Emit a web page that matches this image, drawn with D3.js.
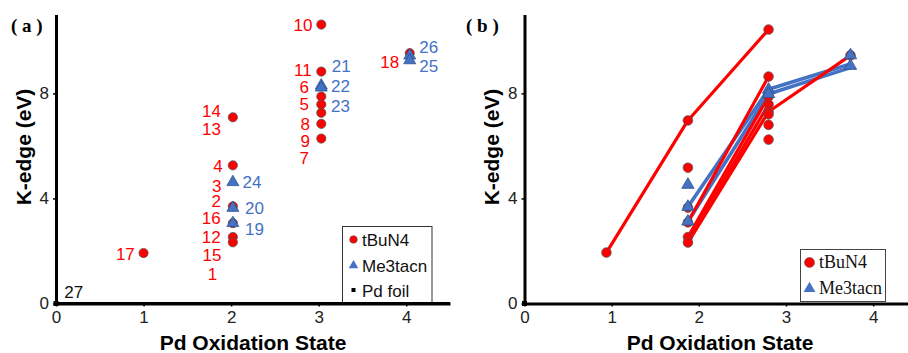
<!DOCTYPE html>
<html>
<head>
<meta charset="utf-8">
<script src="https://cdn.jsdelivr.net/npm/d3@7"></script>
<style>
  html, body { margin: 0; padding: 0; background: #fff; }
  svg { display: block; }
</style>
</head>
<body>
<svg id="chart" width="908" height="353"></svg>
<script>
// ---- Panel (a): K-edge shift vs. Pd oxidation state, labelled by complex ----
const tbuOxA   = [1, 2.02, 2.02, 2.02, 2.02, 2.02, 2.02, 3.03, 3.03, 3.03, 3.03, 3.03, 3.03, 3.03, 4.04];
const tbuEdgeA = [1.92, 7.09, 5.26, 3.70, 3.06, 2.53, 2.33, 10.62, 8.83, 7.88, 7.58, 7.26, 6.84, 6.28, 9.53];
const tacnOxA   = [2.02, 2.02, 2.02, 3.03, 3.03, 4.04, 4.04];
const tacnEdgeA = [4.62, 3.64, 3.06, 8.30, 8.22, 9.44, 9.26];
const foilOx = [0];
const foilEdge = [0];

// compound number labels: text, anchor point (oxidation state, eV), series
const labelText = ["17","14","13","4","3","2","16","12","15","1",
                   "10","11","6","5","8","9","7","18",
                   "24","20","19","21","22","23","26","25","27"];
const labelOx   = [0.90,1.885,1.885,1.905,1.89,1.885,1.88,1.88,1.89,1.84,
                   2.93,2.92,2.89,2.89,2.90,2.90,2.89,3.92,
                   2.13,2.16,2.16,3.15,3.14,3.14,4.15,4.15,0.095];
const labelEdge = [1.88,7.34,6.65,5.24,4.49,3.90,3.27,2.54,1.85,1.12,
                   10.60,8.89,8.23,7.59,6.85,6.18,5.54,9.21,
                   4.62,3.63,2.86,9.04,8.28,7.52,9.76,9.04,0.43];
const labelSeries = ["t","t","t","t","t","t","t","t","t","t",
                     "t","t","t","t","t","t","t","t",
                     "m","m","m","m","m","m","m","m","f"];

// ---- Panel (b): same complexes, oxidation state re-assigned, with redox pairs ----
const tbuOxB   = [0.94, 1.875, 1.875, 1.875, 1.875, 1.875, 1.875, 2.80, 2.80, 2.80, 2.80, 2.80, 2.80, 2.80, 2.80, 3.74];
const tbuEdgeB = [1.94, 6.97, 5.17, 3.65, 3.09, 2.53, 2.32, 10.43, 8.64, 7.88, 7.58, 7.30, 7.20, 6.80, 6.24, 9.45];
const tacnOxB   = [1.875, 1.875, 1.875, 2.80, 2.80, 3.74, 3.74];
const tacnEdgeB = [4.52, 3.68, 3.12, 8.14, 7.98, 9.45, 9.05];

// redox series connecting the same ligand platform across oxidation states
const tbuPathOx   = [[0.94, 1.875, 2.80], [1.875, 2.80], [1.875, 2.80], [1.875, 2.80], [1.875, 2.80, 3.74]];
const tbuPathEdge = [[1.94, 6.97, 10.43], [3.09, 8.64], [2.53, 7.88], [2.40, 7.58], [2.32, 7.30, 9.45]];
const tacnPathOx   = [[1.875, 2.80, 3.74], [1.875, 2.80, 3.74]];
const tacnPathEdge = [[3.68, 8.16, 9.12], [3.12, 7.98, 8.98]];

const xTicks = [0, 1, 2, 3, 4];
const yTicks = [0, 4, 8];

const RED = "#ff0000", BLUE = "#4472c4", MARK_STROKE = "#555";
const SANS = "'Liberation Sans', Arial, sans-serif";
const SERIF = "'Liberation Serif', 'Times New Roman', serif";

const svg = d3.select("#chart");
const tri = d3.symbol().type(d3.symbolTriangle);

function drawAxes(g, x, y, cx, cy, panelTag, tagX) {
  const yAxis = g.append("g")
    .attr("transform", `translate(${x.range()[0]},0)`)
    .call(d3.axisLeft(y).tickValues(yTicks).tickSize(3).tickSizeOuter(0).tickPadding(4).tickFormat(d3.format("d")));
  const xAxis = g.append("g")
    .attr("transform", `translate(0,${y.range()[0]})`)
    .call(d3.axisBottom(x).tickValues(xTicks).tickSize(3).tickSizeOuter(0).tickPadding(4).tickFormat(d3.format("d")));
  [xAxis, yAxis].forEach(a => {
    a.select(".domain").attr("stroke", "#000").attr("stroke-width", 3);
    a.selectAll(".tick line").attr("stroke", "#000").attr("stroke-width", 1.5);
    a.selectAll(".tick text").attr("fill", "#222").style("font-family", SANS).style("font-size", "17px");
  });
  g.append("text")
    .attr("x", cx).attr("y", 350)
    .attr("text-anchor", "middle")
    .style("font-family", SANS).style("font-weight", "bold").style("font-size", "21px")
    .text("Pd Oxidation State");
  g.append("text")
    .attr("transform", `translate(${cy},147) rotate(-90)`)
    .attr("text-anchor", "middle").attr("dy", "0.36em")
    .style("font-family", SANS).style("font-weight", "bold").style("font-size", "21px")
    .text("K-edge (eV)");
  g.append("text")
    .attr("x", tagX).attr("y", 32)
    .style("font-family", SERIF).style("font-weight", "bold").style("font-size", "19px")
    .style("white-space", "pre")
    .text(`( ${panelTag} )`);
}

function circles(g, x, y, xs, ys, r) {
  g.append("g").selectAll("circle").data(xs.map((d, i) => [d, ys[i]])).join("circle")
    .attr("cx", d => x(d[0])).attr("cy", d => y(d[1])).attr("r", r)
    .attr("fill", RED).attr("stroke", MARK_STROKE).attr("stroke-width", 0.8);
}
function triangles(g, x, y, xs, ys, size) {
  g.append("g").selectAll("path").data(xs.map((d, i) => [d, ys[i]])).join("path")
    .attr("d", tri.size(size)())
    .attr("transform", d => `translate(${x(d[0])},${y(d[1])})`)
    .attr("fill", BLUE).attr("stroke", "#2f528f").attr("stroke-width", 0.8);
}

// ---------------- Panel (a) ----------------
{
  const x = d3.scaleLinear().domain([0, 4.5]).range([56, 450]);
  const y = d3.scaleLinear().domain([0, 11]).range([303.5, 14.6]);
  const g = svg.append("g");
  drawAxes(g, x, y, 253, 23, "a", 11);

  g.append("g").selectAll("rect").data(foilOx.map((d, i) => [d, foilEdge[i]])).join("rect")
    .attr("x", d => x(d[0]) - 2.5).attr("y", d => y(d[1]) - 2.5)
    .attr("width", 5).attr("height", 5).attr("fill", "#000");
  circles(g, x, y, tbuOxA, tbuEdgeA, 4.6);
  triangles(g, x, y, tacnOxA, tacnEdgeA, 62);

  const colorOf = { t: RED, m: BLUE, f: "#111" };
  g.append("g").selectAll("text").data(labelText.map((t, i) => i)).join("text")
    .attr("x", i => x(labelOx[i])).attr("y", i => y(labelEdge[i]))
    .attr("dy", "0.36em")
    .attr("text-anchor", i => labelSeries[i] === "t" ? "end" : "start")
    .attr("fill", i => colorOf[labelSeries[i]])
    .style("font-family", SANS).style("font-size", "17px")
    .text(i => labelText[i]);

  // legend
  const lg = g.append("g");
  lg.append("rect").attr("x", 342.5).attr("y", 226.5).attr("width", 89.5).attr("height", 78)
    .attr("fill", "#fff").attr("stroke", "#333").attr("stroke-width", 1);
  lg.append("circle").attr("cx", 353.5).attr("cy", 239.5).attr("r", 3.8).attr("fill", RED).attr("stroke", MARK_STROKE).attr("stroke-width", 0.6);
  lg.append("path").attr("d", tri.size(40)()).attr("transform", "translate(353.5,265.5)").attr("fill", BLUE);
  lg.append("rect").attr("x", 351.5).attr("y", 288).attr("width", 4).attr("height", 4).attr("fill", "#000");
  [["tBuN4", 239.5], ["Me3tacn", 265.5], ["Pd foil", 290.5]].forEach(([t, yy]) => {
    lg.append("text").attr("x", 362).attr("y", yy).attr("dy", "0.36em")
      .style("font-family", SANS).style("font-size", "17px").attr("fill", "#111").text(t);
  });
  // x-axis line drawn again on top of the legend frame
  g.append("line").attr("x1", 56).attr("x2", 450).attr("y1", y(0)).attr("y2", y(0)).attr("stroke", "#000").attr("stroke-width", 3);
}

// ---------------- Panel (b) ----------------
{
  const x = d3.scaleLinear().domain([0, 4.4]).range([524.5, 908]);
  const y = d3.scaleLinear().domain([0, 11]).range([303.5, 14.6]);
  const g = svg.append("g");
  drawAxes(g, x, y, 720, 491, "b", 466);

  const line = d3.line().x(d => x(d[0])).y(d => y(d[1]));
  g.append("g").selectAll("path").data(tacnPathOx.map((xs, k) => xs.map((v, i) => [v, tacnPathEdge[k][i]]))).join("path")
    .attr("d", line).attr("fill", "none").attr("stroke", BLUE).attr("stroke-width", 3.6).attr("stroke-linejoin", "round");
  g.append("g").selectAll("path").data(tbuPathOx.map((xs, k) => xs.map((v, i) => [v, tbuPathEdge[k][i]]))).join("path")
    .attr("d", line).attr("fill", "none").attr("stroke", RED).attr("stroke-width", 3.2).attr("stroke-linejoin", "round");

  g.append("rect").attr("x", x(0) - 2.5).attr("y", y(0) - 2.5).attr("width", 5).attr("height", 5).attr("fill", "#000");
  circles(g, x, y, tbuOxB, tbuEdgeB, 4.8);
  triangles(g, x, y, tacnOxB, tacnEdgeB, 66);

  const lg = g.append("g");
  lg.append("rect").attr("x", 800.5).attr("y", 249.5).attr("width", 85).attr("height", 52)
    .attr("fill", "#fff").attr("stroke", "#444").attr("stroke-width", 1);
  lg.append("circle").attr("cx", 809.5).attr("cy", 262.5).attr("r", 5).attr("fill", RED).attr("stroke", MARK_STROKE).attr("stroke-width", 0.6);
  lg.append("path").attr("d", tri.size(60)()).attr("transform", "translate(809.5,288.5)").attr("fill", BLUE);
  [["tBuN4", 262.5], ["Me3tacn", 288.5]].forEach(([t, yy]) => {
    lg.append("text").attr("x", 819).attr("y", yy).attr("dy", "0.33em")
      .style("font-family", SERIF).style("font-size", "18px").attr("fill", "#111").text(t);
  });
}
</script>
</body>
</html>
